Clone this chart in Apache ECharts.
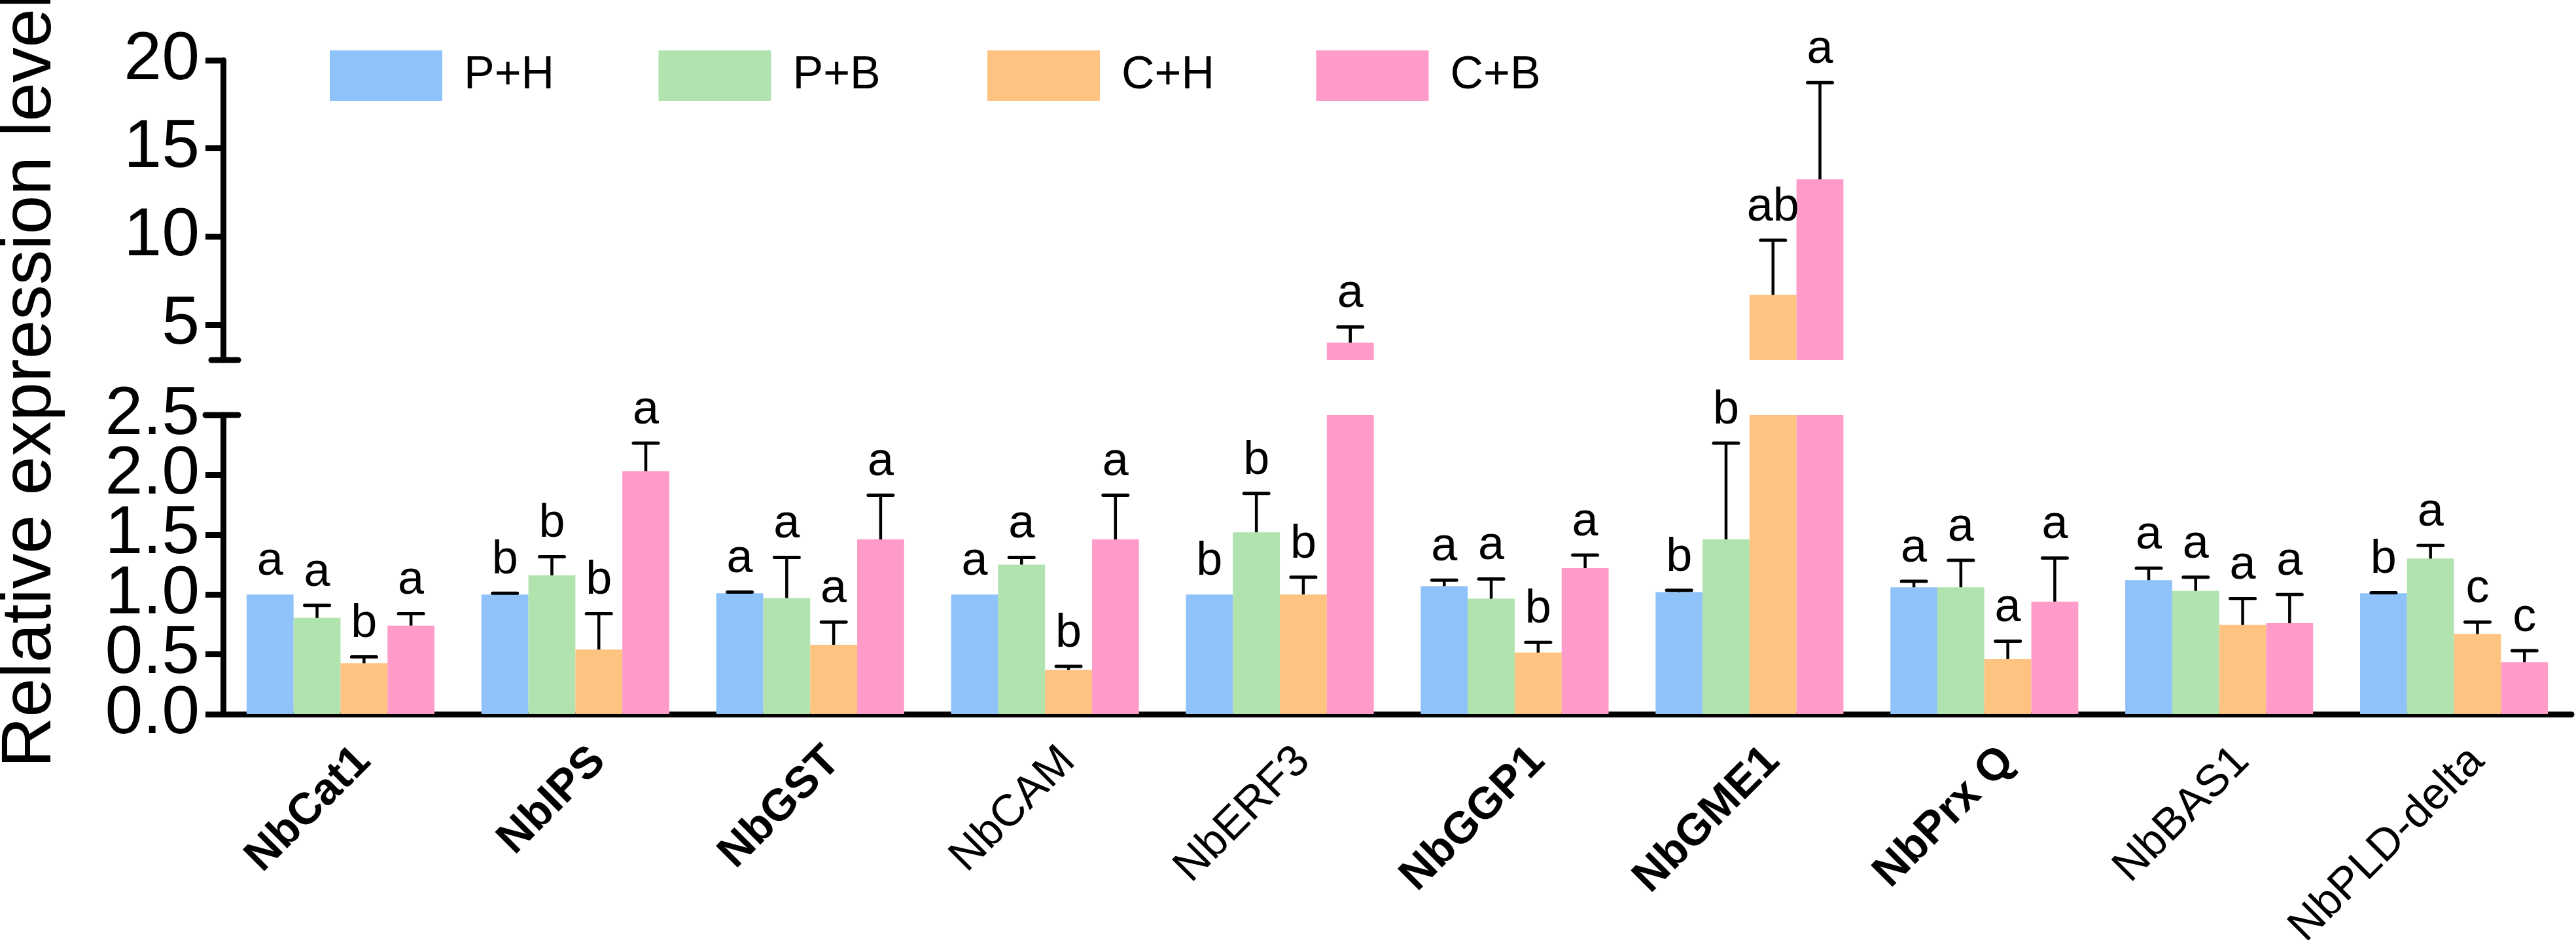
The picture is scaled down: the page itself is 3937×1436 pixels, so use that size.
<!DOCTYPE html>
<html>
<head>
<meta charset="utf-8">
<script src="https://cdn.jsdelivr.net/npm/echarts@6.0.0/dist/echarts.min.js"></script>
<style>
html,body{margin:0;padding:0;background:#ffffff;}
#chart{width:3937px;height:1436px;}
</style>
</head>
<body>
<div id="chart"></div>
<script>
// ---------------- data ----------------
const categories = ['NbCat1','NbIPS','NbGST','NbCAM','NbERF3','NbGGP1','NbGME1','NbPrx Q','NbBAS1','NbPLD-delta'];
const boldCategories = ['NbCat1','NbIPS','NbGST','NbGGP1','NbGME1','NbPrx Q'];
const seriesNames = ['P+H','P+B','C+H','C+B'];

const meanPH = [1.00, 1.00, 1.01, 1.00, 1.00, 1.07, 1.02, 1.06, 1.12, 1.01];
const upPH   = [null, 1.01, 1.02, null, null, 1.12, 1.035, 1.11, 1.22, 1.015];
const letPH  = ['a','b','a','a','b','a','b','a','a','b'];

const meanPB = [0.805, 1.16, 0.97, 1.25, 1.52, 0.965, 1.46, 1.06, 1.03, 1.30];
const upPB   = [0.91, 1.315, 1.31, 1.31, 1.845, 1.13, 2.265, 1.285, 1.145, 1.41];
const letPB  = ['a','b','a','a','b','a','b','a','a','a'];

const meanCH = [0.425, 0.54, 0.58, 0.37, 1.00, 0.515, 6.69, 0.46, 0.745, 0.67];
const upCH   = [0.478, 0.84, 0.77, 0.40, 1.145, 0.60, 9.79, 0.61, 0.965, 0.77];
const letCH  = ['b','b','a','b','b','b','ab','a','a','c'];

const meanCB = [0.74, 2.03, 1.46, 1.46, 3.98, 1.22, 13.24, 0.94, 0.76, 0.435];
const upCB   = [0.84, 2.265, 1.83, 1.83, 4.87, 1.33, 18.73, 1.305, 1.00, 0.53];
const letCB  = ['a','a','a','a','a','a','a','a','a','c'];

// lower panel ticks, split in two interleaved sets (two overlaid axes keep big labels from being culled)
const lowerTicksA = [0, 1, 2];
const lowerTickLabelsA = ['0.0','1.0','2.0'];
const lowerTicksB = [0.5, 1.5, 2.5];
const lowerTickLabelsB = ['0.5','1.5','2.5'];
const upperTicks = [5, 10, 15, 20];
const upperTickLabels = ['5','10','15','20'];
const lowerMin = 0, lowerMax = 2.5, upperMin = 3, upperMax = 20;

const yTitle = 'Relative expression level';

// ---------------- styling / layout ----------------
const colors = ['#90C2FA','#B0E3AE','#FFC381','#FF9BC8'];
const FONT = '"Liberation Sans", Arial, Helvetica, sans-serif';
const GRID_LEFT = 341, GRID_RIGHT = 7;
const LOWER_TOP = 634, LOWER_BOTTOM = 345;
const UPPER_TOP = 92, UPPER_BOTTOM = 886;
const AXIS_W = 9;

const means = [meanPH, meanPB, meanCH, meanCB];
const ups = [upPH, upPB, upCH, upCB];
const lets = [letPH, letPB, letCH, letCB];

// error-bar items split by panel
const lowerItems = [], upperItems = [];
for (let s = 0; s < 4; s++) {
  for (let c = 0; c < categories.length; c++) {
    const it = {cat: c, s: s, mean: means[s][c], up: ups[s][c], letter: lets[s][c]};
    if (it.mean > lowerMax) upperItems.push(it); else lowerItems.push(it);
  }
}

function makeRender(items) {
  return function (params, api) {
    const it = items[params.dataIndex];
    const band = api.size([1, 0])[0];
    const bw = band * 0.8 / 4;
    const base = api.coord([it.cat, it.mean]);
    const x = base[0] + (it.s - 1.5) * bw;
    const children = [];
    let topY = base[1];
    if (it.up != null) {
      const upY = api.coord([it.cat, it.up])[1];
      children.push({type: 'line', shape: {x1: x, y1: base[1], x2: x, y2: upY},
        style: {stroke: '#000', lineWidth: 4.5}});
      children.push({type: 'line', shape: {x1: x - 19, y1: upY, x2: x + 19, y2: upY},
        style: {stroke: '#000', lineWidth: 5, lineCap: 'round'}});
      topY = upY;
    }
    children.push({type: 'text', x: x, y: topY - 14,
      style: {text: it.letter, fill: '#000', font: '72px ' + FONT, textAlign: 'center', textVerticalAlign: 'bottom'}});
    return {type: 'group', children: children};
  };
}

const barSeries = [];
for (let s = 0; s < 4; s++) {
  barSeries.push({
    name: seriesNames[s], type: 'bar', xAxisIndex: 0, yAxisIndex: 0,
    data: means[s], barGap: '0%', barCategoryGap: '20%', clip: true,
    itemStyle: {color: colors[s]}, silent: true
  });
  barSeries.push({
    name: seriesNames[s], type: 'bar', xAxisIndex: 1, yAxisIndex: 1,
    data: means[s].map(v => v > lowerMax ? v : '-'), barGap: '0%', barCategoryGap: '20%', clip: true,
    itemStyle: {color: colors[s]}, silent: true
  });
}

const chart = echarts.init(document.getElementById('chart'), null, {renderer: 'canvas'});

const legends = seriesNames.map((n, i) => ({
  data: [n], left: 504 + i * 502.5, top: 77, padding: 0, itemGap: 0,
  itemWidth: 172, itemHeight: 77, icon: 'rect', selectedMode: false,
  textStyle: {fontSize: 70, color: '#000', fontFamily: FONT, padding: [0, 0, 0, 28]}
}));

const yLabelStyle = {margin: 36, fontSize: 104, fontFamily: FONT, color: '#000',
  showMinLabel: true, showMaxLabel: true, hideOverlap: false};

function valueAxis(gridIndex, min, max, ticks, labels, showLine) {
  return {
    type: 'value', gridIndex: gridIndex, min: min, max: max,
    axisLine: {show: showLine, lineStyle: {color: '#000', width: AXIS_W}},
    axisTick: {show: true, length: 27, customValues: ticks, lineStyle: {color: '#000', width: AXIS_W}},
    axisLabel: Object.assign({}, yLabelStyle, {customValues: ticks,
      formatter: v => labels[ticks.indexOf(v)]}),
    splitLine: {show: false}
  };
}

const option = {
  backgroundColor: '#ffffff',
  animation: false,
  legend: legends,
  grid: [
    {left: GRID_LEFT, right: GRID_RIGHT, top: LOWER_TOP, bottom: LOWER_BOTTOM, outerBoundsMode: 'none', containLabel: false},
    {left: GRID_LEFT, right: GRID_RIGHT, top: UPPER_TOP, bottom: UPPER_BOTTOM, outerBoundsMode: 'none', containLabel: false}
  ],
  xAxis: [
    {
      type: 'category', gridIndex: 0, data: categories,
      axisLine: {lineStyle: {color: '#000', width: AXIS_W, cap: 'round'}},
      axisTick: {alignWithLabel: true, length: 36, lineStyle: {color: '#000', width: AXIS_W}},
      axisLabel: {
        interval: 0, rotate: 45, margin: 26, padding: [100, 0, 0, 0], color: '#000',
        hideOverlap: false,
        formatter: v => boldCategories.indexOf(v) >= 0 ? '{b|' + v + '}' : '{n|' + v + '}',
        rich: {
          b: {fontSize: 68, fontWeight: 'bold', fontFamily: FONT, color: '#000'},
          n: {fontSize: 68, fontWeight: 'normal', fontFamily: FONT, color: '#000'}
        }
      },
      splitLine: {show: false}
    },
    {type: 'category', gridIndex: 1, data: categories, show: false}
  ],
  yAxis: [
    valueAxis(0, lowerMin, lowerMax, lowerTicksA, lowerTickLabelsA, true),
    valueAxis(1, upperMin, upperMax, upperTicks, upperTickLabels, true),
    valueAxis(0, lowerMin, lowerMax, lowerTicksB, lowerTickLabelsB, false)
  ],
  series: barSeries.concat([
    {
      type: 'custom', xAxisIndex: 0, yAxisIndex: 0, z: 5, silent: true,
      data: lowerItems.map(it => [it.cat, it.mean, it.up == null ? it.mean : it.up]),
      renderItem: makeRender(lowerItems)
    },
    {
      type: 'custom', xAxisIndex: 1, yAxisIndex: 1, z: 5, silent: true,
      data: upperItems.map(it => [it.cat, it.mean, it.up == null ? it.mean : it.up]),
      renderItem: makeRender(upperItems)
    }
  ])
};
// the extra lower axis sits exactly on top of the first one
option.yAxis[2].position = 'left';
option.yAxis[2].offset = 0;
option.yAxis[0].position = 'left';

chart.setOption(option);

// axis-break caps and y-axis title
const yUpperBottom = chart.convertToPixel({yAxisIndex: 1}, upperMin);
const yLowerTop = chart.convertToPixel({yAxisIndex: 0}, lowerMax);
const yLowerZero = chart.convertToPixel({yAxisIndex: 0}, lowerMin);
const axisX = GRID_LEFT;
chart.setOption({
  graphic: [
    {type: 'line', shape: {x1: axisX - 18, y1: yUpperBottom, x2: axisX + 23, y2: yUpperBottom},
      style: {stroke: '#000', lineWidth: AXIS_W, lineCap: 'round'}, z: 10},
    {type: 'line', shape: {x1: axisX - 27, y1: yLowerTop, x2: axisX + 23, y2: yLowerTop},
      style: {stroke: '#000', lineWidth: AXIS_W, lineCap: 'round'}, z: 10},
    {type: 'text', x: 47, y: yLowerZero + 82 - 592, rotation: Math.PI / 2,
      style: {text: yTitle, font: '107px ' + FONT, fill: '#000', textAlign: 'center', textVerticalAlign: 'middle'}}
  ]
});
</script>
</body>
</html>
